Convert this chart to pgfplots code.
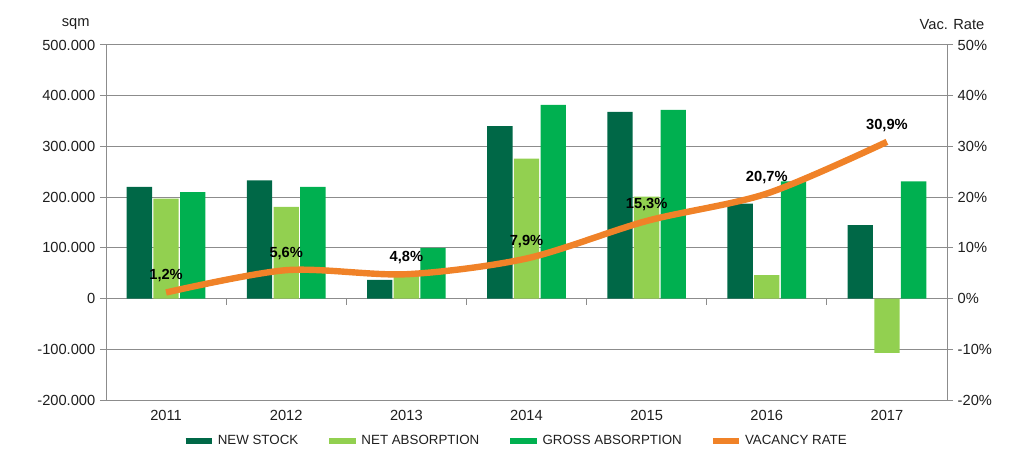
\documentclass[border=0pt]{standalone}
\usepackage{fontspec}
\setmainfont{Liberation Sans}
\usepackage{pgfplots}
\usepackage{pgfplotstable}
\pgfplotsset{compat=1.18}
\definecolor{cNew}{RGB}{0,104,71}
\definecolor{cNet}{RGB}{146,208,80}
\definecolor{cGross}{RGB}{0,176,80}
\definecolor{cVac}{RGB}{240,130,40}
\definecolor{cGrid}{RGB}{140,140,140}
\definecolor{cText}{RGB}{30,30,30}
\pgfplotstableread{
x new net gross
0 220000 197000 210000
1 233000 181000 220000
2 37000 48000 100000
3 340000 276000 382000
4 368000 201000 372000
5 187000 46000 231000
6 145000 -107000 231000
}\bars
\pgfplotstableread{
x y label
0 1.2 1,2\%
1 5.6 5,6\%
2 4.8 4,8\%
3 7.9 7,9\%
4 15.3 15,3\%
5 20.7 20,7\%
6 30.9 30,9\%
}\vac
\begin{document}
\begin{tikzpicture}
\useasboundingbox (-79.5pt,-45pt) rectangle (688.5pt,300pt);
\begin{axis}[
  scale only axis, width=630.75pt, height=266.25pt,
  at={(0,0)}, anchor=south west,
  xmin=-0.5, xmax=6.5, ymin=-200000, ymax=500000,
  axis line style={cGrid, line width=0.75pt},
  xtick={0,...,6}, xticklabels={2011,2012,2013,2014,2015,2016,2017},
  x tick style={draw=none},
  ytick={-200000,-100000,0,100000,200000,300000,400000,500000},
  yticklabels={-200.000,-100.000,0,100.000,200.000,300.000,400.000,500.000},
  ytick pos=left, tick align=outside, major tick length=4.5pt,
  y tick style={cGrid, line width=0.75pt},
  ymajorgrids, grid style={cGrid, line width=0.75pt},
  tick label style={font=\fontsize{11}{13}\selectfont, text=cText},
  scaled y ticks=false,
  ybar=1pt, bar width=19pt,
  clip=false,
]
\draw[cGrid, line width=0.75pt] (axis cs:-0.5,0) -- (axis cs:6.5,0);
\pgfplotsinvokeforeach{0.5,1.5,2.5,3.5,4.5,5.5}{\draw[cGrid, line width=0.75pt] (axis cs:#1,0) -- ++(0pt,-4.5pt);}
\addplot[fill=cNew, draw=none] table[x=x,y=new]{\bars};
\addplot[fill=cNet, draw=none] table[x=x,y=net]{\bars};
\addplot[fill=cGross, draw=none] table[x=x,y=gross]{\bars};
\node[font=\fontsize{11}{13}\selectfont, text=cText, anchor=center] at (rel axis cs:-0.036,1.059) {sqm};
\node[font=\fontsize{11}{13}\selectfont, text=cText, anchor=center] at (rel axis cs:1.006,1.059) {Vac. Rate};
\end{axis}
\begin{axis}[
  scale only axis, width=630.75pt, height=266.25pt,
  at={(0,0)}, anchor=south west,
  xmin=-0.5, xmax=6.5, ymin=-20, ymax=50,
  axis x line=none, axis y line*=right,
  axis line style={cGrid, line width=0.75pt},
  ytick={-20,-10,0,10,20,30,40,50},
  yticklabels={-20\%,-10\%,0\%,10\%,20\%,30\%,40\%,50\%},
  tick align=outside, major tick length=4.5pt,
  y tick style={cGrid, line width=0.75pt},
  tick label style={font=\fontsize{11}{13}\selectfont, text=cText},
  clip=false,
  legend style={at={(0.4875,-0.1155)}, anchor=center, draw=none, fill=none,
    legend columns=4, font=\fontsize{10}{12}\selectfont, text=cText,
    /tikz/every even column/.append style={column sep=19pt}},
  legend image code/.code={\draw[#1, line width=4.5pt, line cap=butt] (0cm,0cm) -- (0.7cm,0cm);},
]
\addlegendimage{cNew}
\addlegendentry{NEW STOCK}
\addlegendimage{cNet}
\addlegendentry{NET ABSORPTION}
\addlegendimage{cGross}
\addlegendentry{GROSS ABSORPTION}
\addplot[cVac, line width=4.8pt, smooth, mark=none,
  nodes near coords, point meta=explicit symbolic,
  every node near coord/.append style={font=\bfseries\fontsize{11}{13}\selectfont, text=black, yshift=2pt}]
  table[x=x,y=y,meta=label]{\vac};
\addlegendentry{VACANCY RATE}
\end{axis}
\end{tikzpicture}
\end{document}
